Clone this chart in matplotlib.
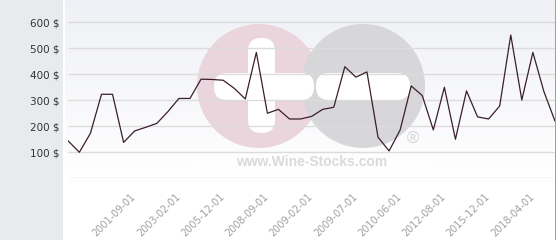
import numpy as np
import matplotlib
matplotlib.use("Agg")
from matplotlib import pyplot as plt
from matplotlib import transforms
from matplotlib.patches import Circle, FancyBboxPatch, Rectangle

# prices, one per sample
prices = [142, 99, 172, 322, 322, 137, 181, 195, 210, 255,
          306, 306, 380, 379, 376, 345, 304, 483, 249, 264,
          227, 227, 237, 264, 272, 428, 388, 408, 157, 104,
          185, 354, 317, 185, 349, 149, 335, 235, 227, 277,
          550, 300, 483, 332, 219]
label_dates = ["2001-09-01", "2003-02-01", "2005-12-01", "2008-09-01",
               "2009-02-01", "2009-07-01", "2010-06-01", "2012-08-01",
               "2015-12-01", "2018-04-01"]
label_idx = [6, 10, 14, 18, 22, 26, 30, 34, 38, 42]
y_ticks = [100, 200, 300, 400, 500, 600]
grid_vals = [0, 100, 200, 300, 400, 500, 600]

W, H = 560, 240
fig = plt.figure(figsize=(W / 100, H / 100), dpi=100)
fig.patch.set_facecolor("#e7ebee")

# gradient backdrop of the plot region
bg = fig.add_axes([63 / W, 0, (W - 63) / W, 1], zorder=0)
grad = np.linspace(0, 1, 256).reshape(-1, 1)
top = np.array([0.94, 0.945, 0.965])
bot = np.array([1.0, 1.0, 1.0])
img = top + (bot - top) * np.clip(grad * 1.3, 0, 1)[..., None] * np.ones((1, 2, 1))
bg.imshow(img, aspect="auto", extent=[0, 1, 0, 1])
bg.axis("off")

# watermark in pixel coordinates
wm = fig.add_axes([0, 0, 1, 1], zorder=1)
wm.set_xlim(0, W)
wm.set_ylim(H, 0)
wm.axis("off")
wm.patch.set_alpha(0)
wm.add_patch(Rectangle((556, 0), 4, H, color="white", lw=0))
wm.add_patch(Rectangle((555, 0), 1, H, color="#a0a0a0", lw=0))
wm.add_patch(Rectangle((63, 0), 1.5, H, color="white", lw=0))
wm.add_patch(Circle((259, 86), 62, color="#e9d5db", lw=0))
wm.add_patch(Circle((363, 86), 62, color="#d7d7d9", lw=0))
for x0, y0, w, h in [(248, 38, 27, 95), (214, 73, 100, 27), (316, 73, 94, 27)]:
    wm.add_patch(FancyBboxPatch((x0 + 13, y0 + 13), w - 26, h - 26,
                                boxstyle="round,pad=13", color="white", lw=0))
wm.add_patch(Rectangle((197, 153), 230, 22, color="white", alpha=0.5, lw=0))
wm.text(312, 162, "www.Wine-Stocks.com", family="Liberation Sans", weight="bold",
        fontsize=10, color="#dadada", ha="center", va="center")
wm.text(413, 139, "®", family="Liberation Sans", fontsize=12, color="#d2d2d2",
        ha="center", va="center")

# main chart
y0_px, y600_px = 178, 22
ymax = 600 * y0_px / (y0_px - y600_px)
ax = fig.add_axes([68.3 / W, (H - y0_px) / H, (555 - 68.3) / W, y0_px / H], zorder=2)
ax.patch.set_alpha(0)
ax.set_xlim(0, len(prices) - 1)
ax.set_ylim(0, ymax)
ax.hlines(grid_vals, 0, len(prices) - 1, color="#dcdcdc", lw=1.0, zorder=1)
ax.plot(range(len(prices)), prices, color="#3a1e2c", lw=0.9, zorder=3)
for s in ax.spines.values():
    s.set_visible(False)
ax.set_yticks(y_ticks, [f"{v} $" for v in y_ticks], fontsize=7.5, color="#333333")
ax.set_xticks(label_idx, label_dates, fontsize=7, color="#a0a0a0",
              rotation=45, ha="right", va="top", rotation_mode="anchor")
ax.tick_params(axis="y", length=0, pad=6)
ax.tick_params(axis="x", length=0, pad=7)
shift = transforms.ScaledTranslation(-4 / 100, -4 / 100, fig.dpi_scale_trans)
for lbl in ax.get_xticklabels():
    lbl.set_transform(lbl.get_transform() + shift)

fig.savefig("out.png", dpi=100)
